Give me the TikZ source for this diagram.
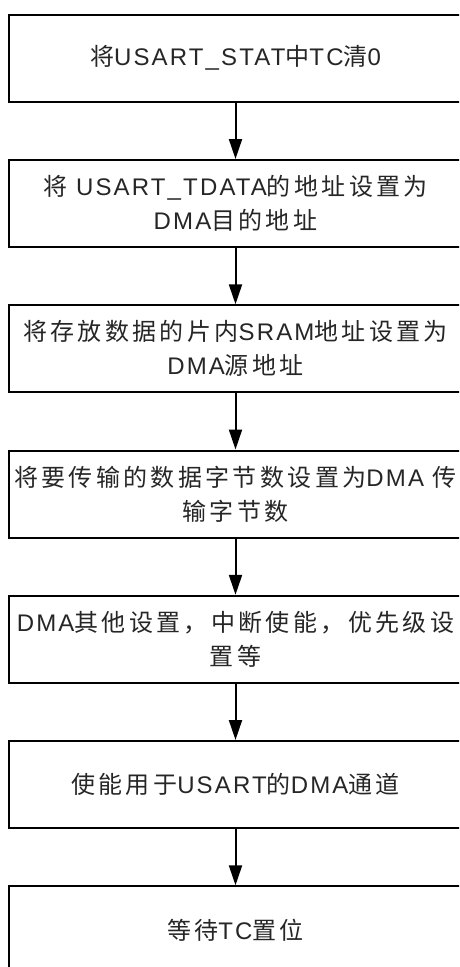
\documentclass[tikz,border=0pt]{standalone}
\usepackage{fontspec}
\setmainfont{Liberation Sans}[LetterSpace=9]
\newfontfamily\zhfont{Noto Sans CJK SC}[LetterSpace=14]
\newcommand{\zh}[1]{{\zhfont #1}}
\usetikzlibrary{arrows.meta}
\begin{document}
\begin{tikzpicture}[x=1pt,y=-1pt,
  stepbox/.style={draw=black, line width=2pt, minimum width=453pt, minimum height=87pt,
    inner sep=0pt, align=center, font=\fontsize{24}{34}\selectfont, text=black!85},
  flow/.style={line width=2pt, -{Triangle[width=13pt,length=20pt]}}]
\clip (0,0) rectangle (459,967);
\fill[white] (0,0) rectangle (459,967);
\node[stepbox] (b1) at (235.5,58.3) {\zh{将}USART\_STAT\zh{中}TC\zh{清}0};
\node[stepbox] (b2) at (235.5,203.5) {\zh{将} USART\_TDATA\zh{的地址设置为}\\DMA\zh{目的地址}};
\node[stepbox] (b3) at (235.5,348.8) {\zh{将存放数据的片内}SRAM\zh{地址设置为}\\DMA\zh{源地址}};
\node[stepbox] (b4) at (235.5,494.0) {\zh{将要传输的数据字节数设置为}DMA \zh{传}\\\zh{输字节数}};
\node[stepbox] (b5) at (235.5,639.3) {DMA\zh{其他设置，中断使能，优先级设}\\\zh{置等}};
\node[stepbox] (b6) at (235.5,784.5) {\zh{使能用于}USART\zh{的}DMA\zh{通道}};
\node[stepbox] (b7) at (235.5,929.8) {\zh{等待}TC\zh{置位}};
\draw[flow] (b1) -- (b2);
\draw[flow] (b2) -- (b3);
\draw[flow] (b3) -- (b4);
\draw[flow] (b4) -- (b5);
\draw[flow] (b5) -- (b6);
\draw[flow] (b6) -- (b7);
\end{tikzpicture}
\end{document}
